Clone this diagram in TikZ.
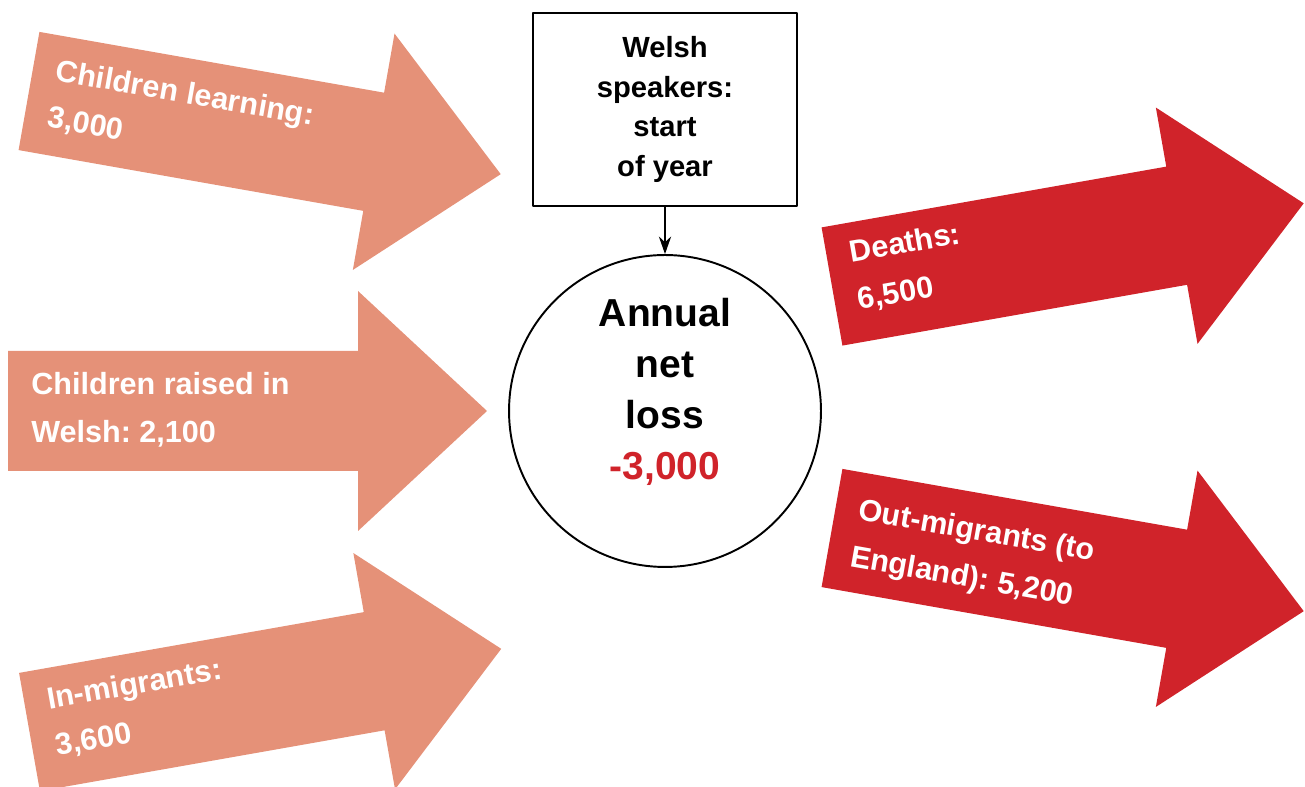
\documentclass[tikz,border=0pt]{standalone}
\usepackage{fontspec}
\setmainfont{Liberation Sans}
\usetikzlibrary{arrows.meta}
\frenchspacing
\definecolor{gainc}{RGB}{229,145,120}
\definecolor{lossc}{RGB}{208,35,42}
\tikzset{
	lbl/.style={text=white, font=\bfseries\fontsize{17.4}{27}\selectfont, align=left, anchor=west, inner sep=0pt},
	startbox/.style={draw, line width=1.1pt, minimum width=5.28cm, minimum height=3.86cm, align=center, font=\bfseries\fontsize{16.6}{22.7}\selectfont},
	netcirc/.style={draw, circle, line width=1.1pt, minimum size=6.24cm, inner sep=0pt}
}
\begin{document}
\begin{tikzpicture}[x=0.02cm, y=0.02cm, line join=round, >={Stealth[length=10pt,width=7pt]}]
		\clip (0,0) rectangle (1305,787);
		% flows in and out
		\foreach \nm/\px/\py/\ang/\col/\dy/\txt in {
			learn/29/696/-10/gainc/0/{Children learning:\\3,000},
			raised/8/376/0/gainc/1/{Children raised in\\Welsh: 2,100},
			inmig/29.5/55/10/gainc/4/{In-migrants:\\3,600},
			deaths/832/500.5/10/lossc/5/{Deaths:\\6,500},
			outmig/832/259/-10/lossc/-3/{Out-migrants (to\\England): 5,200}}{
			\begin{scope}[shift={(\px,\py)}, rotate=\ang]
				\fill[\col](0,-60)--(350,-60)--(350,-120)--(479,0)--(350,120)--(350,60)--(0,60)--cycle;
				\node[lbl, transform shape] (\nm) at (23,\dy) {\txt};
			\end{scope}
		}
		\node[startbox] (start) at (665,677.5) {Welsh\\speakers:\\start\\of year};
		\node[netcirc] (net) at (665,376) {};
		\node[align=center, font=\bfseries\fontsize{22.2}{29}\selectfont] (nettxt) at (665,395) {Annual\\net\\loss\\\textcolor{lossc}{-3,000}};
		\draw[->, line width=.8pt] (start) -- (net);
		
	\end{tikzpicture}
\end{document}
